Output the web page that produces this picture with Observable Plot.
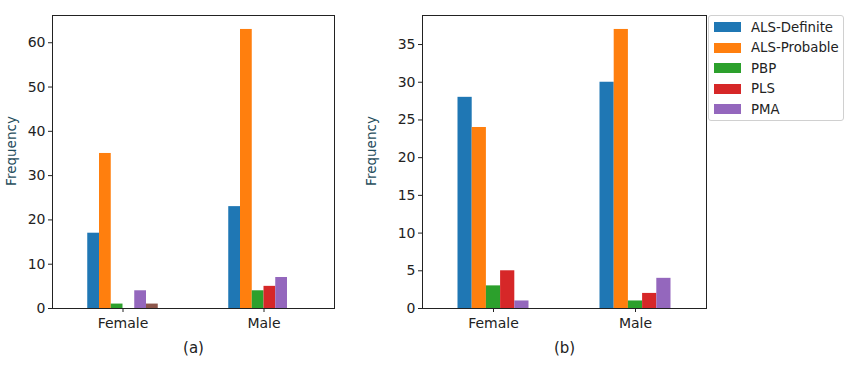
<!DOCTYPE html>
<html>
<head>
<meta charset="utf-8">
<script src="https://cdn.jsdelivr.net/npm/d3@7"></script>
<script src="https://cdn.jsdelivr.net/npm/@observablehq/plot@0.6"></script>
<style>
  html, body { margin: 0; padding: 0; background: #fff; }
  #wrap { position: relative; width: 850px; height: 368px; font-family: "DejaVu Sans", sans-serif; }
  #wrap svg { position: absolute; top: 0; }
  g[aria-label="y-axis label"] { fill: #1f4d5c; font-size: 13.5px; translate: 0px -11px; }
  g[aria-label="x-axis label"] { font-size: 15px; }
  #legend { position: absolute; left: 708px; top: 15px; width: 134px; height: 104px;
            border: 1px solid #d0d0d0; border-radius: 3px; background: #fff; box-sizing: content-box; }
  .row { position: absolute; left: 0; height: 20px; display: flex; align-items: center; font-size: 13.3px; color: #222; }
  .sw { width: 27px; height: 10px; margin-left: 5px; margin-right: 10px; }
</style>
</head>
<body>
<div id="wrap"></div>
<script>
const categories = ["Female", "Male"];
const seriesA = ["ALS-Definite", "ALS-Probable", "PBP", "PLS", "PMA", "Other"];
const femaleA = [17, 35, 1, 0, 4, 1];
const maleA = [23, 63, 4, 5, 7, 0];
const seriesB = ["ALS-Definite", "ALS-Probable", "PBP", "PLS", "PMA"];
const femaleB = [28, 24, 3, 5, 1];
const maleB = [30, 37, 1, 2, 4];
const colors = ["#1f77b4", "#ff7f0e", "#2ca02c", "#d62728", "#9467bd", "#8c564b"];
const yTicksA = [0, 10, 20, 30, 40, 50, 60];
const yTicksB = [0, 5, 10, 15, 20, 25, 30, 35];

function rowsFor(series, perCat) {
  const n = series.length, rows = [];
  perCat.forEach((vals, ci) => {
    vals.forEach((v, si) => {
      const x1 = ci - 0.25 + si * 0.5 / n;
      rows.push({cat: categories[ci], series: series[si], value: v, x1, x2: x1 + 0.5 / n});
    });
  });
  return rows;
}

function panel(series, perCat, yTicks, label, opts) {
  const rows = rowsFor(series, perCat);
  const ymax = d3.max(rows, d => d.value) * 1.05;
  return Plot.plot({
    width: opts.width, height: 368,
    marginLeft: opts.marginLeft, marginRight: opts.marginRight, marginTop: 15, marginBottom: 60,
    style: {fontFamily: "DejaVu Sans, sans-serif", fontSize: "14px", color: "#222", background: "transparent"},
    x: {type: "linear", domain: [-0.5, 1.5]},
    y: {domain: [0, ymax]},
    color: {domain: seriesA, range: colors},
    marks: [
      Plot.rectY(rows, {x1: "x1", x2: "x2", y: "value", fill: "series", insetLeft: 0, insetRight: 0}),
      Plot.frame({stroke: "#222", strokeWidth: 1}),
      Plot.axisY({ticks: yTicks, tickSize: 4, tickPadding: 3, label: "Frequency", labelAnchor: "center",
                  labelArrow: "none", labelOffset: opts.labelOffset}),
      Plot.axisX({ticks: [0, 1], tickFormat: i => categories[i], tickSize: 4, tickPadding: 6,
                  label: label, labelAnchor: "center", labelArrow: "none", labelOffset: 44})
    ]
  });
}

const wrap = document.getElementById("wrap");
const a = panel(seriesA, [femaleA, maleA], yTicksA, "(a)", {width: 340, marginLeft: 52, marginRight: 6, labelOffset: 46});
a.style.left = "0px";
wrap.appendChild(a);
const b = panel(seriesB, [femaleB, maleB], yTicksB, "(b)", {width: 368, marginLeft: 82, marginRight: 2, labelOffset: 56});
b.style.left = "340px";
wrap.appendChild(b);

const legend = document.createElement("div");
legend.id = "legend";
seriesB.forEach((s, i) => {
  const r = document.createElement("div");
  r.className = "row";
  r.style.top = (1 + i * 20.6) + "px";
  const sw = document.createElement("div");
  sw.className = "sw";
  sw.style.background = colors[i];
  const t = document.createElement("span");
  t.textContent = s;
  r.appendChild(sw); r.appendChild(t);
  legend.appendChild(r);
});
wrap.appendChild(legend);
</script>
</body>
</html>
